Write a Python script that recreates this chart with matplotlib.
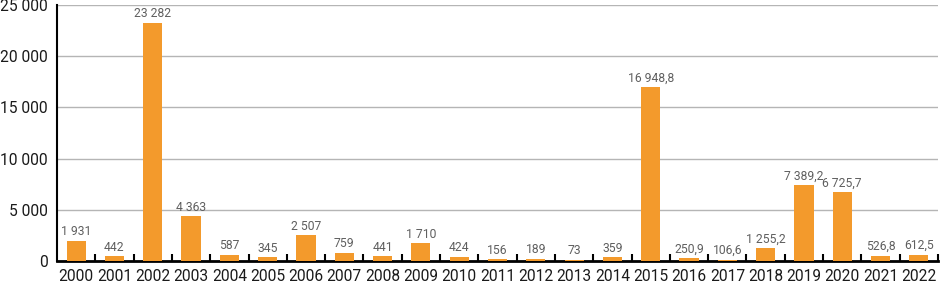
import matplotlib
matplotlib.use("Agg")
import matplotlib.pyplot as plt
import numpy as np

years = [str(y) for y in range(2000, 2023)]
values = [1931, 442, 23282, 4363, 587, 345, 2507, 759, 441, 1710, 424, 156, 189, 73, 359,
          16948.8, 250.9, 106.6, 1255.2, 7389.2, 6725.7, 526.8, 612.5]
decimals = [0]*15 + [1]*8
yticks = [0, 5000, 10000, 15000, 20000, 25000]

def fmt(v, d):
    s = f"{v:,.{d}f}"
    return s.replace(",", " ").replace(".", ",")

plt.rcParams['font.family'] = ['Roboto', 'DejaVu Sans']
fig = plt.figure(figsize=(9.4, 2.84), dpi=100)
ax = fig.add_axes([57/940, 23/284, 881/940, 256/284])
x = np.arange(len(years))
ax.bar(x, values, width=0.5, color='#F39A2C', zorder=3)
for xi, v, d in zip(x, values, decimals):
    ax.annotate(fmt(v, d), (xi, v), xytext=(0, 2), textcoords='offset points',
                ha='center', va='bottom', fontsize=8.7, color='#5f5f5f', zorder=4)
ax.set_xlim(-0.5, len(years) - 0.5)
ax.set_ylim(0, 25000)
ax.set_yticks(yticks)
ax.set_yticklabels([fmt(t, 0) for t in yticks], fontsize=11.2, color='#1a1a1a')
ax.tick_params(axis='y', length=0, pad=6.5)
ax.set_xticks(x)
ax.set_xticklabels(years, fontsize=11.2, color='#1a1a1a')
ax.tick_params(axis='x', which='major', length=0, pad=6)
ax.set_xticks(np.arange(0.5, len(years) - 0.5 + 1, 1), minor=True)
ax.tick_params(axis='x', which='minor', length=5, width=1.5, color='black', direction='in')
ax.grid(axis='y', color='#b5b5b5', linewidth=1, zorder=0)
for s in ['top', 'right']:
    ax.spines[s].set_visible(False)
ax.spines['left'].set_linewidth(1.5)
ax.spines['bottom'].set_linewidth(2)
fig.savefig('out.png', dpi=100)
